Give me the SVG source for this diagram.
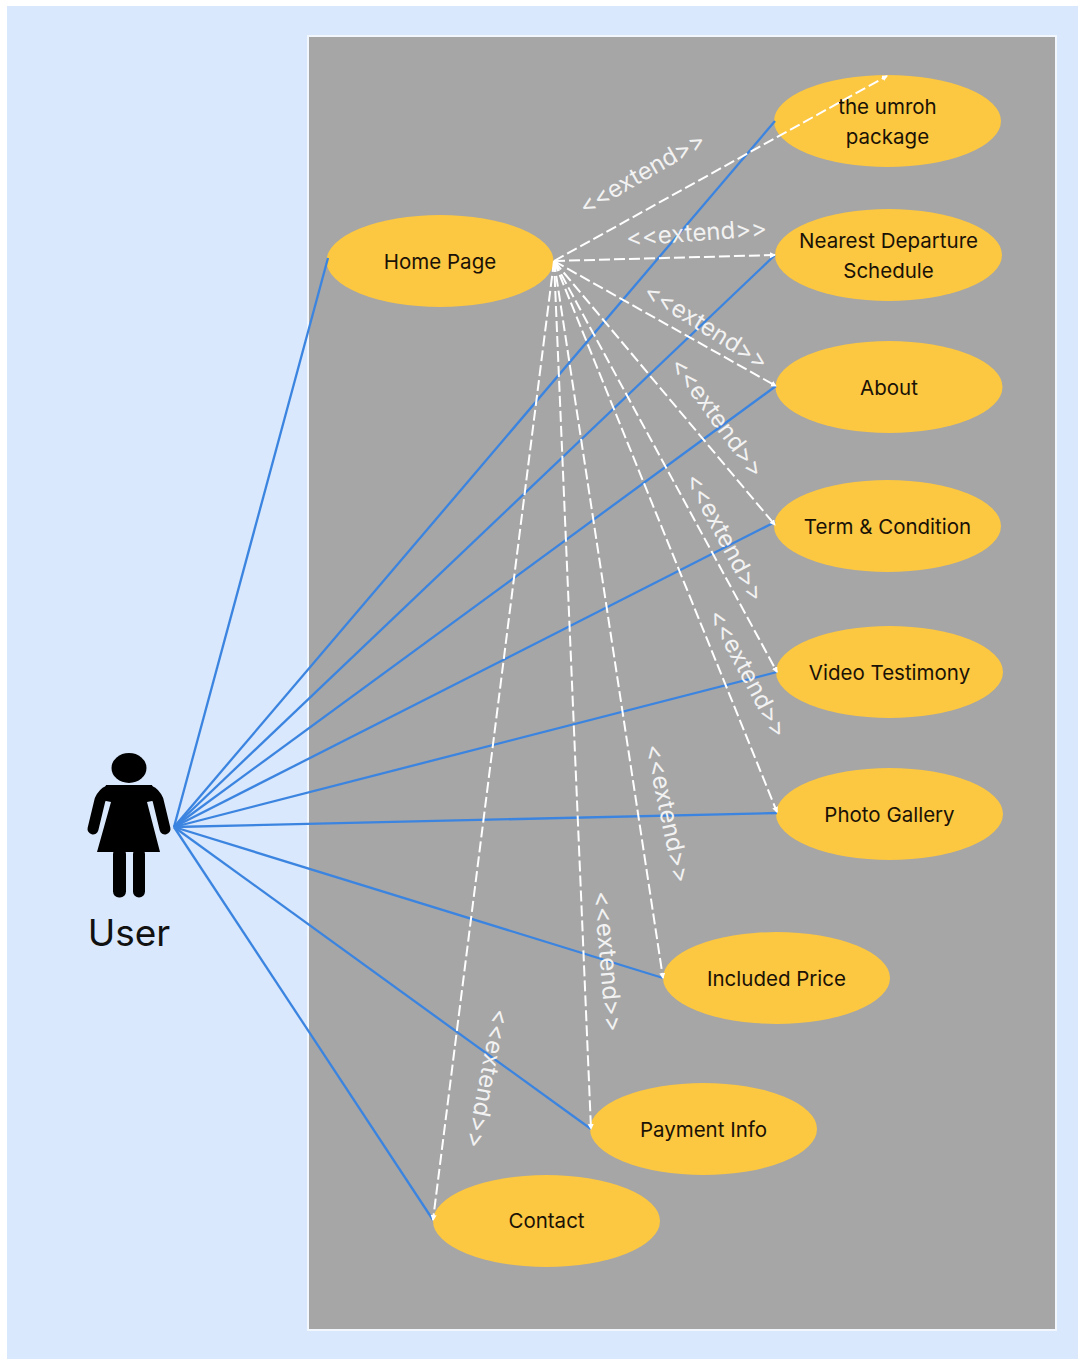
<svg xmlns="http://www.w3.org/2000/svg" width="1078" height="1359" viewBox="0 0 1078 1359">
<style>
text{font-family:"Inter","Liberation Sans",sans-serif}
.n{font-size:20.500px;fill:#1a1206;text-anchor:middle}
.e{fill:#fcc741}
.b{stroke:#3b84e0;stroke-width:2.300;fill:none}
.d{stroke:#fff;stroke-width:2;fill:none;stroke-dasharray:11 4;marker-end:url(#a)}
.x{font-size:24px;fill:#f2f2f2;text-anchor:middle}
.k{fill:#000}
.arm{stroke:#000;stroke-width:11;stroke-linecap:round;fill:none}
</style>
<defs><marker id="a" markerWidth="7" markerHeight="7" refX="5" refY="3" orient="auto" markerUnits="userSpaceOnUse"><path d="M0 0L6 3L0 6z" fill="#fff"/></marker></defs>
<rect width="1078" height="1359" fill="#fff"/>
<rect x="7" y="6" width="1071" height="1353" fill="#d9e8fc"/>
<rect x="307" y="35" width="750" height="1296" fill="#f2f6fd"/>
<rect x="309" y="37" width="746" height="1292" fill="#a6a6a6"/>
<g id="node-home"><ellipse class="e" cx="440" cy="261" rx="113.500" ry="46"/><text class="n" x="440" y="268.500">Home Page</text></g>
<g id="node-umroh"><ellipse class="e" cx="887.500" cy="121" rx="113.500" ry="46"/><text class="n" x="887.500" y="113.500">the umroh</text><text class="n" x="887.500" y="143.500">package</text></g>
<g id="node-schedule"><ellipse class="e" cx="888.500" cy="255" rx="113.500" ry="46"/><text class="n" x="888.500" y="248">Nearest Departure</text><text class="n" x="888.500" y="278">Schedule</text></g>
<g id="node-about"><ellipse class="e" cx="889" cy="387" rx="113.500" ry="46"/><text class="n" x="889" y="394.500">About</text></g>
<g id="node-term"><ellipse class="e" cx="887.500" cy="526" rx="113.500" ry="46"/><text class="n" x="887.500" y="533.500">Term &amp; Condition</text></g>
<g id="node-video"><ellipse class="e" cx="889.500" cy="672" rx="113.500" ry="46"/><text class="n" x="889.500" y="679.500">Video Testimony</text></g>
<g id="node-gallery"><ellipse class="e" cx="889.500" cy="814" rx="113.500" ry="46"/><text class="n" x="889.500" y="821.500">Photo Gallery</text></g>
<g id="node-price"><ellipse class="e" cx="776.500" cy="978" rx="113.500" ry="46"/><text class="n" x="776.500" y="985.500">Included Price</text></g>
<g id="node-payment"><ellipse class="e" cx="703.500" cy="1129" rx="113.500" ry="46"/><text class="n" x="703.500" y="1136.500">Payment Info</text></g>
<g id="node-contact"><ellipse class="e" cx="546.500" cy="1221" rx="113.500" ry="46"/><text class="n" x="546.500" y="1228">Contact</text></g>
<g id="node-user">
<ellipse class="k" cx="129" cy="768" rx="17.500" ry="15"/>
<path class="k" d="M106 785H152L157 800L147 802L160 852H97L111 802L101 800Z"/>
<path class="arm" d="M108 791Q103 793 100 800L93 829"/>
<path class="arm" d="M150 791Q155 793 158 800L165 829"/>
<rect class="k" x="113" y="848" width="13" height="49.500" rx="6"/>
<rect class="k" x="133" y="848" width="12" height="49.500" rx="6"/>
<text x="129" y="946" font-size="37" fill="#111" text-anchor="middle">User</text>
</g>
<g id="connectors">
<path class="b" d="M174 827L328 258"/><path class="b" d="M174 827L775 121"/><path class="b" d="M174 827L775 255"/><path class="b" d="M174 827L776 386"/><path class="b" d="M174 827L775 522"/><path class="b" d="M174 827L777 672"/><path class="b" d="M174 827L777 813"/><path class="b" d="M174 827L663 978"/><path class="b" d="M174 827L591 1129"/><path class="b" d="M174 827L433 1220"/>
<path class="d" d="M554 261L887 76"/><path class="d" d="M554 261L775 255"/><path class="d" d="M554 261L776 386"/><path class="d" d="M554 261L775 525"/><path class="d" d="M554 261L777 672"/><path class="d" d="M554 261L777 812"/><path class="d" d="M554 261L663 978"/><path class="d" d="M554 261L591 1129"/><path class="d" d="M554 261L433 1220"/>
</g>
<g id="labels">
<text class="x" transform="translate(646 180) rotate(-30)">&lt;&lt;extend&gt;&gt;</text>
<text class="x" transform="translate(697 241) rotate(-4)">&lt;&lt;extend&gt;&gt;</text>
<text class="x" transform="translate(702 333) rotate(32)">&lt;&lt;extend&gt;&gt;</text>
<text class="x" transform="translate(711 422) rotate(54)">&lt;&lt;extend&gt;&gt;</text>
<text class="x" transform="translate(718 541) rotate(62)">&lt;&lt;extend&gt;&gt;</text>
<text class="x" transform="translate(741 677) rotate(62)">&lt;&lt;extend&gt;&gt;</text>
<text class="x" transform="translate(660 815) rotate(78)">&lt;&lt;extend&gt;&gt;</text>
<text class="x" transform="translate(600 962) rotate(85)">&lt;&lt;extend&gt;&gt;</text>
<text class="x" transform="translate(480 1077) rotate(101)">&lt;&lt;extend&gt;&gt;</text>
</g>
</svg>
